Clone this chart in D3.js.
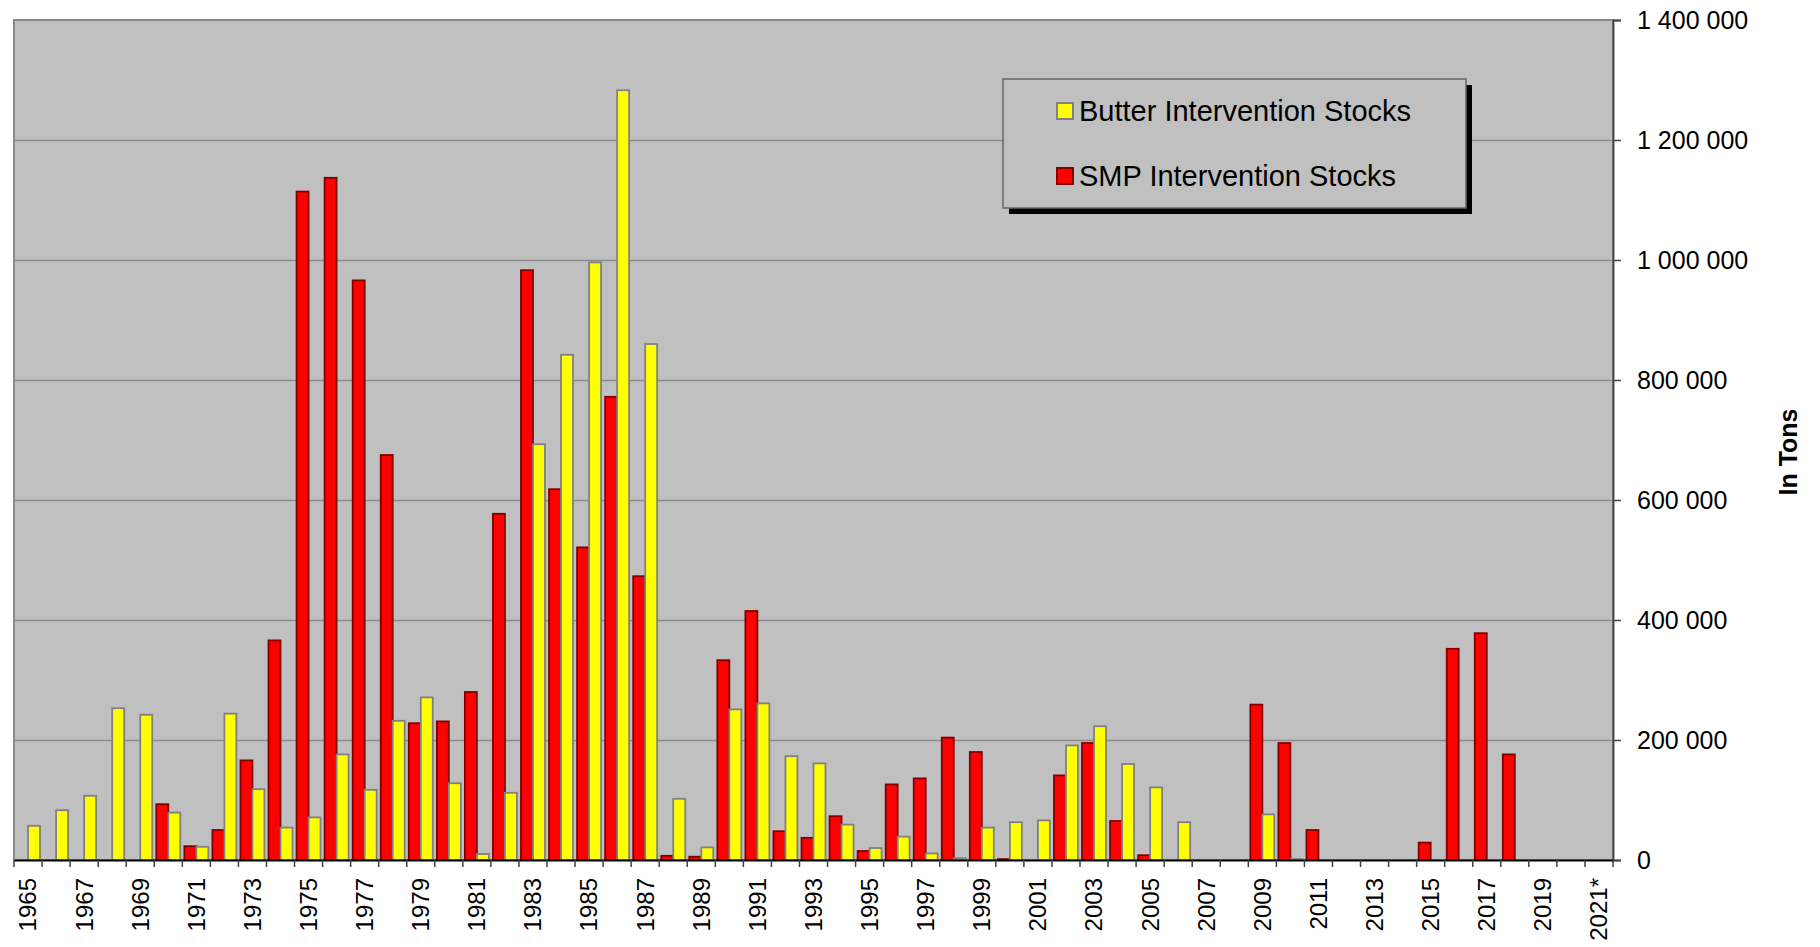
<!DOCTYPE html>
<html>
<head>
<meta charset="utf-8">
<script src="https://cdn.jsdelivr.net/npm/d3@7"></script>
<style>
  body { margin: 0; background: #fff; }
  svg { display: block; font-family: "Liberation Sans", Arial, sans-serif; }
</style>
</head>
<body>
<svg id="chart"></svg>
<script>
const years = ['1965','1966','1967','1968','1969','1970','1971','1972','1973','1974',
  '1975','1976','1977','1978','1979','1980','1981','1982','1983','1984',
  '1985','1986','1987','1988','1989','1990','1991','1992','1993','1994',
  '1995','1996','1997','1998','1999','2000','2001','2002','2003','2004',
  '2005','2006','2007','2008','2009','2010','2011','2012','2013','2014',
  '2015','2016','2017','2018','2019','2020','2021*'];

// SMP intervention stocks (tons)
const smp = [0, 0, 0, 0, 0, 93000, 23000, 50000, 166000, 366000,
  1114000, 1137000, 966000, 675000, 228000, 231000, 280000, 577000, 983000, 618000,
  521000, 772000, 473000, 7000, 5500, 333000, 415000, 48000, 37000, 73000,
  15000, 126000, 136000, 204000, 180000, 1500, 0, 141000, 195000, 65000,
  8000, 0, 0, 0, 259000, 195000, 50000, 0, 0, 0,
  29000, 352000, 378000, 176000, 0, 0, 0];

// Butter intervention stocks (tons)
const butter = [57000, 83000, 107000, 253000, 242000, 79000, 22000, 244000, 118000, 54000,
  71000, 176000, 117000, 232000, 271000, 128000, 10000, 112000, 693000, 842000,
  996000, 1283000, 860000, 102000, 21000, 251000, 261000, 173000, 161000, 59000,
  20000, 39000, 11000, 3000, 54000, 63000, 66000, 191000, 223000, 160000,
  121000, 63000, 0, 0, 76000, 1500, 0, 0, 0, 0,
  0, 0, 0, 0, 0, 0, 0];

const yTicks = [0, 200000, 400000, 600000, 800000, 1000000, 1200000, 1400000];
const legendLabels = ['Butter Intervention Stocks', 'SMP Intervention Stocks'];

const width = 1820, height = 947;
const plotLeft = 14, plotRight = 1613, plotTop = 20, plotBottom = 860;

const svg = d3.select('#chart').attr('width', width).attr('height', height);

const x = d3.scaleBand().domain(years).range([plotLeft, plotRight]).paddingInner(0).paddingOuter(0);
const x1 = d3.scaleBand().domain(['smp', 'butter']).range([0, x.bandwidth()]).paddingInner(0).paddingOuter(0.17);
const y = d3.scaleLinear().domain([0, 1400000]).range([plotBottom, plotTop]);

const series = [
  { key: 'smp', values: smp, fill: '#ff0000', stroke: '#800000' },
  { key: 'butter', values: butter, fill: '#ffff00', stroke: '#808080' }
];

// plot area
svg.append('rect')
  .attr('x', plotLeft).attr('y', plotTop)
  .attr('width', plotRight - plotLeft).attr('height', plotBottom - plotTop)
  .attr('fill', '#c0c0c0')
  .attr('stroke', '#8a8a8a')
  .attr('stroke-width', 2);

// gridlines
svg.append('g')
  .attr('transform', `translate(${plotRight},0)`)
  .call(d3.axisLeft(y).tickValues(yTicks.slice(1, -1)).tickSize(plotRight - plotLeft).tickFormat(''))
  .call(g => g.select('.domain').remove())
  .call(g => g.selectAll('line').attr('stroke', '#8c8c8c').attr('stroke-width', 1.3));

// bars
series.forEach(s => {
  svg.append('g')
    .selectAll('rect')
    .data(years.map((yr, i) => ({ yr, v: s.values[i] })).filter(d => d.v > 0))
    .join('rect')
    .attr('x', d => x(d.yr) + x1(s.key))
    .attr('y', d => y(d.v))
    .attr('width', x1.bandwidth())
    .attr('height', d => plotBottom - y(d.v))
    .attr('fill', s.fill)
    .attr('stroke', s.stroke)
    .attr('stroke-width', 1.8);
});

// right axis
const fmt = d3.formatLocale({ decimal: '.', thousands: ' ', grouping: [3], currency: ['', ''] }).format(',');
svg.append('g')
  .attr('transform', `translate(${plotRight},0)`)
  .call(d3.axisRight(y).tickValues(yTicks).tickSize(8).tickPadding(16).tickFormat(fmt))
  .call(g => g.select('.domain').attr('stroke', '#404040').attr('stroke-width', 1.8))
  .call(g => g.selectAll('.tick line').attr('stroke', '#404040').attr('stroke-width', 1.5))
  .call(g => g.selectAll('text').attr('font-size', 25).attr('fill', '#000')
    .attr('font-family', '"Liberation Sans", Arial, sans-serif'));

// bottom axis
const xAxis = svg.append('g')
  .attr('transform', `translate(0,${plotBottom})`)
  .call(d3.axisBottom(x).tickSize(0).tickFormat((d, i) => i % 2 === 0 ? d : ''));
xAxis.select('.domain').attr('stroke', '#000').attr('stroke-width', 2);
xAxis.selectAll('text')
  .attr('font-size', 24)
  .attr('fill', '#000')
  .attr('font-family', '"Liberation Sans", Arial, sans-serif')
  .attr('text-anchor', 'end')
  .attr('transform', 'translate(0,18) rotate(-90)')
  .attr('x', 0).attr('y', 0).attr('dy', '0.35em');

// category boundary ticks
svg.append('g')
  .selectAll('line')
  .data(years.map(d => x(d)).concat([plotRight]))
  .join('line')
  .attr('x1', d => d).attr('x2', d => d)
  .attr('y1', plotBottom).attr('y2', plotBottom + 7)
  .attr('stroke', '#404040')
  .attr('stroke-width', 1.5);

// axis title
svg.append('text')
  .attr('transform', 'translate(1797,452) rotate(-90)')
  .attr('text-anchor', 'middle')
  .attr('font-size', 25)
  .attr('font-weight', 'bold')
  .text('In Tons');

// legend
const legend = svg.append('g').attr('transform', 'translate(1003,79)');
legend.append('rect')
  .attr('x', 6).attr('y', 6).attr('width', 463).attr('height', 129)
  .attr('fill', '#000');
legend.append('rect')
  .attr('width', 463).attr('height', 129)
  .attr('fill', '#c0c0c0')
  .attr('stroke', '#666')
  .attr('stroke-width', 1.5);

const legendItems = [series[1], series[0]];
legendItems.forEach((s, i) => {
  const g = legend.append('g').attr('transform', `translate(0,${24 + i * 65})`);
  g.append('rect')
    .attr('x', 54).attr('y', 0).attr('width', 16).attr('height', 16)
    .attr('fill', s.fill).attr('stroke', s.stroke).attr('stroke-width', 2);
  g.append('text')
    .attr('x', 76).attr('y', 18)
    .attr('font-size', 29)
    .attr('fill', '#000')
    .text(legendLabels[i]);
});
</script>
</body>
</html>
